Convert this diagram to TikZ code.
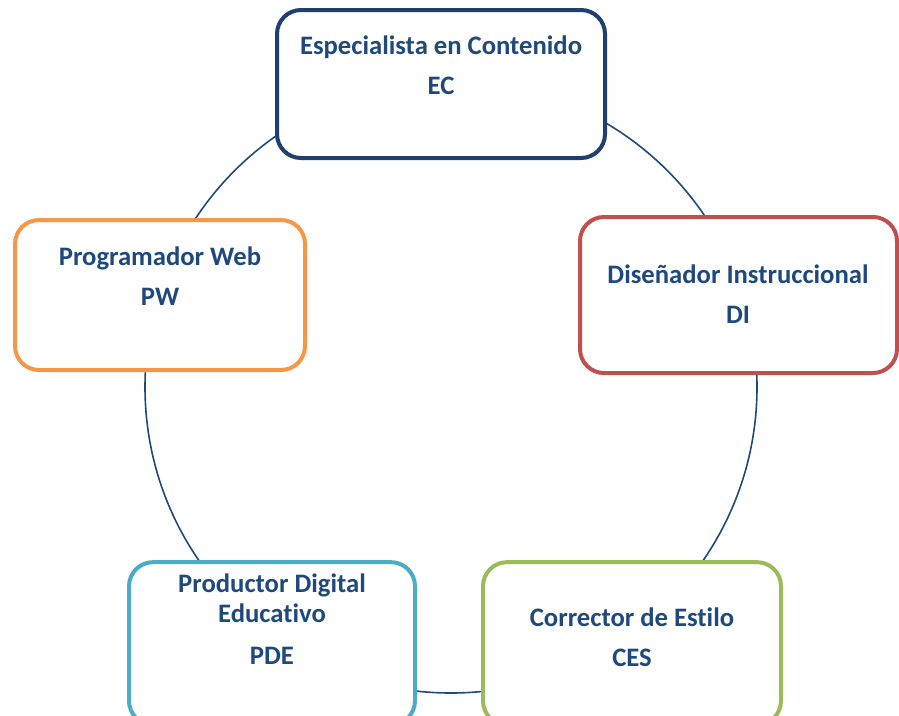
\documentclass[tikz,border=0pt]{standalone}
\usepackage{fontspec}
\setmainfont{Carlito}[Ligatures = NoCommon]
\definecolor{roleblue}{HTML}{1F497D}
\definecolor{ecline}{HTML}{1F3F6E}
\definecolor{pwline}{HTML}{F79646}
\definecolor{diline}{HTML}{C0504D}
\definecolor{pdeline}{HTML}{4BACC6}
\definecolor{cesline}{HTML}{9BBB59}

\begin{document}
\begin{tikzpicture}[x = 0.75pt, y = -0.75pt,
  rolebox/.style = {draw = #1, line width = 3pt, rounded corners = 18pt, fill = white, inner sep = 0pt},
  rolename/.style = {align = center, color = roleblue, inner sep = 0pt,
    font = \bfseries\fontsize{20}{24}\selectfont}]
\useasboundingbox (0, 0) rectangle (899, 715);
% the cycle behind the roles
\coordinate (centro) at (451, 387);
\draw [color = roleblue, line width = 1.2pt] (centro) circle [radius = 229.5pt];
% the five roles
\node [rolebox = ecline, minimum width = 246pt, minimum height = 111pt] (ec) at (441, 84) {};
\node [rolebox = pwline, minimum width = 217.5pt, minimum height = 112.5pt] (pw) at (160, 295) {};
\node [rolebox = diline, minimum width = 237.75pt, minimum height = 117pt] (di) at (738.5, 295) {};
\node [rolebox = pdeline, minimum width = 214.5pt, minimum height = 122pt] (pde) at (272, 643.5) {};
\node [rolebox = cesline, minimum width = 223.5pt, minimum height = 122pt] (ces) at (632, 643.5) {};
\node [rolename] (ec-t) at (441, 65) {Especialista en Contenido\\[6pt] EC};
\node [rolename] (pw-t) at (160, 276) {Programador Web\\[6pt] PW};
\node [rolename] (di-t) at (738, 294.5) {Diseñador Instruccional\\[6pt] DI};
\node [rolename] (pde-t) at (272, 619) {Productor Digital\\[-1.5pt] Educativo\\[7.5pt] PDE};
\node [rolename] (ces-t) at (632, 637.5) {Corrector de Estilo\\[6pt] CES};
\end{tikzpicture}
\end{document}
